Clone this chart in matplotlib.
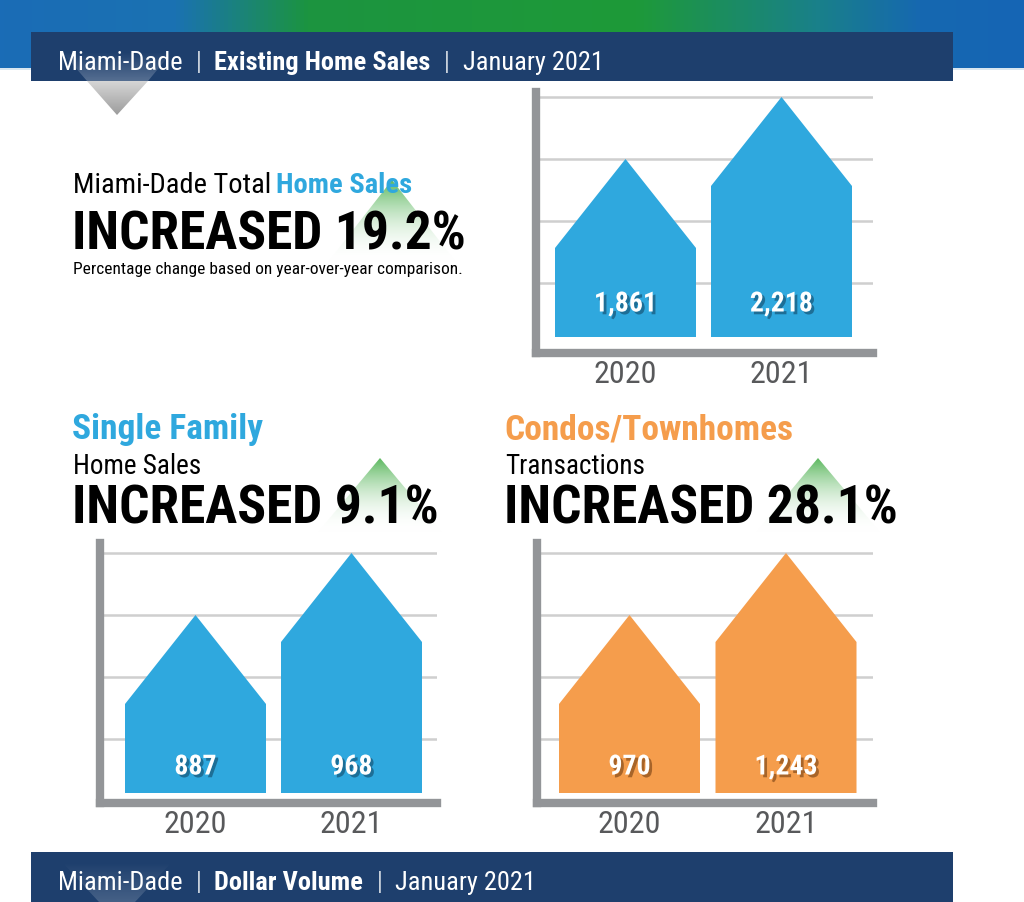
import numpy as np
import matplotlib
matplotlib.use("Agg")
import matplotlib.pyplot as plt
from matplotlib.patches import Polygon, Rectangle
from matplotlib.colors import to_rgba, LinearSegmentedColormap
import matplotlib.patheffects as pe

plt.rcParams['font.family'] = ['Roboto Condensed', 'Liberation Sans', 'DejaVu Sans']

# ---------------- data ----------------
years = ["2020", "2021"]
total_sales = [1861, 2218]
single_family = [887, 968]
condos = [970, 1243]
total_change = 19.2
sf_change = 9.1
condo_change = 28.1

header_top = [("Miami-Dade", "normal"), ("|", "light"), ("Existing Home Sales", "bold"),
              ("|", "light"), ("January 2021", "normal")]
header_bottom = [("Miami-Dade", "normal"), ("|", "light"), ("Dollar Volume", "bold"),
                 ("|", "light"), ("January 2021", "normal")]

# ---------------- colours ----------------
NAVY = '#1e3f6d'
BLUE = '#2fa8de'
ORANGE = '#f59d4c'
AXIS_GRAY = '#939598'
GRID_GRAY = '#cfcfcf'
YEAR_GRAY = '#58595b'

W, H = 1024, 902
fig = plt.figure(figsize=(W / 100, H / 100), dpi=100)
bg = fig.add_axes([0, 0, 1, 1])
bg.axis('off')
renderer = fig.canvas.get_renderer()


def gradient_poly(ax, verts, c_top, c_bot, zorder=1):
    verts = np.array(verts, dtype=float)
    x0, x1 = verts[:, 0].min(), verts[:, 0].max()
    y0, y1 = verts[:, 1].min(), verts[:, 1].max()
    t = np.linspace(0, 1, 200)[:, None]
    img = (np.array(to_rgba(c_top)) * (1 - t) + np.array(to_rgba(c_bot)) * t)[:, None, :]
    im = ax.imshow(img, extent=(x0, x1, y1, y0), origin='upper', aspect='auto',
                   zorder=zorder, interpolation='bilinear')
    poly = Polygon(verts, closed=True, fc='none', ec='none')
    ax.add_patch(poly)
    im.set_clip_path(poly)


# top colour strip
strip_cmap = LinearSegmentedColormap.from_list('strip', [
    (0.0, '#1a6cb6'), (0.17, '#1a72b2'), (0.30, '#1c9440'), (0.62, '#1e9a38'),
    (0.80, '#19808a'), (0.90, '#1668b0'), (1.0, '#1565b5')])
grad = np.linspace(0, 1, 512)[None, :]
bg.imshow(grad, cmap=strip_cmap, extent=(0, W, 68, 0), origin='upper', aspect='auto', zorder=0)
bg.add_patch(Rectangle((0, 68), W, 2, fc='#d8e6f0', ec='none', zorder=0.5))

# header boxes
bg.add_patch(Rectangle((31, 32), 922, 49, fc=NAVY, ec='none', zorder=2))
bg.add_patch(Rectangle((31, 852), 922, 52, fc=NAVY, ec='none', zorder=2))

# grey pointer under header
gradient_poly(bg, [(87, 81), (148, 81), (117, 115)], '#d6d6d6', '#9c9c9c', zorder=2.5)
gradient_poly(bg, [(62, 52), (172, 52), (148, 81), (87, 81)], (1, 1, 1, 0.0), (1, 1, 1, 0.25), zorder=2.5)
gradient_poly(bg, [(62, 862), (172, 862), (135, 902), (99, 902)], (1, 1, 1, 0.0), (1, 1, 1, 0.18), zorder=2.5)

# green arrows behind percentages
for ax_, ay, hw, by in [(392, 180, 64, 262), (380, 458, 62, 532), (818, 458, 62, 532)]:
    gradient_poly(bg, [(ax_, ay), (ax_ + hw, by), (ax_ - hw, by)], '#5cb85f', (1, 1, 1, 0.0), zorder=1)

bg.set_xlim(0, W)
bg.set_ylim(H, 0)


def text_run(x, y, parts, gap, **kw):
    # draw pieces one after another on a common baseline
    for txt, style in parts:
        t = bg.text(x, y, txt, va='baseline', zorder=4, **style, **kw)
        x = t.get_window_extent(renderer).x1 + gap


# header texts
text_run(58, 70, [(t, {'fontweight': w}) for t, w in header_top], 13, color='white', fontsize=19)
text_run(58, 890, [(t, {'fontweight': w}) for t, w in header_bottom], 13, color='white', fontsize=19)

# headline block - total
text_run(73, 193, [("Miami-Dade Total", {'color': 'black'}),
                   ("Home Sales", {'color': BLUE, 'fontweight': 'bold'})], 5, fontsize=20.5)
bg.text(72, 250, f"INCREASED {total_change}%", fontsize=38.5, fontweight='bold', color='black',
        va='baseline', zorder=4)
bg.text(73, 274, "Percentage change based on year-over-year comparison.", fontsize=12.5,
        color='black', va='baseline', zorder=4)

# single family block
bg.text(72, 439, "Single Family", fontsize=25.5, fontweight='bold', color=BLUE, va='baseline', zorder=4)
bg.text(73, 474, "Home Sales", fontsize=19.5, color='black', va='baseline', zorder=4)
bg.text(72, 524, f"INCREASED {sf_change}%", fontsize=38.5, fontweight='bold', color='black',
        va='baseline', zorder=4)

# condos block
bg.text(504, 439, "Condos/Townhomes", fontsize=25.5, fontweight='bold', color=ORANGE, va='baseline', zorder=4)
bg.text(505, 474, "Transactions", fontsize=19.5, color='black', va='baseline', zorder=4)
bg.text(504, 524, f"INCREASED {condo_change}%", fontsize=38.5, fontweight='bold', color='black',
        va='baseline', zorder=4)


def house_chart(geom, values, color, shadow, label_px):
    axis_x, right, top, axis_y, base, c0, c1, bw = geom
    ax = fig.add_axes([axis_x / W, 1 - axis_y / H, (right - axis_x) / W, (axis_y - top) / H])
    v1, v2 = values
    ppu = 62.0 / (v2 - v1)          # pixels per unit
    base_val = v1 - 178 / ppu
    roof = 89 / ppu
    sp = c1 - c0
    ax.set_xlim((axis_x - c0) / sp, (right - c0) / sp)
    ax.set_ylim(base_val - (axis_y - base) / ppu, base_val + (base - top) / ppu)
    hw = bw / sp / 2
    for i, v in enumerate(values):
        xs = [i - hw, i - hw, i, i + hw, i + hw]
        ys = [base_val, v - roof, v, v - roof, base_val]
        ax.fill(xs, ys, color=color, lw=0, zorder=3)
        ax.annotate(f"{v:,}", xy=(i, base_val), xytext=(0, label_px * 0.72),
                    textcoords='offset points', ha='center', va='center',
                    fontsize=20, fontweight='bold', color='white', zorder=4,
                    path_effects=[pe.SimplePatchShadow(offset=(2, -2), shadow_rgbFace=shadow, alpha=0.5),
                                  pe.Normal()])
    ax.set_yticks([v2 - k * (v2 - v1) for k in range(4)])
    ax.yaxis.grid(True, color=GRID_GRAY, lw=1.8)
    ax.set_axisbelow(True)
    ax.tick_params(axis='y', length=0, labelleft=False)
    ax.set_xticks([0, 1], years)
    ax.tick_params(axis='x', length=0, pad=5, labelsize=23, labelcolor=YEAR_GRAY)
    for s in ['top', 'right']:
        ax.spines[s].set_visible(False)
    for s in ['left', 'bottom']:
        ax.spines[s].set_color(AXIS_GRAY)
        ax.spines[s].set_linewidth(6)
        ax.spines[s].set_capstyle('projecting')
    ax.patch.set_alpha(0)
    return ax


house_chart((536, 873, 92, 353, 337, 625.5, 781.5, 141), total_sales, BLUE, '#0d3550', 33)
house_chart((100, 437, 543, 803, 793, 195.5, 351.5, 141), single_family, BLUE, '#0d3550', 26)
house_chart((537, 873, 543, 803, 793, 629.5, 786, 141), condos, ORANGE, '#5a2c08', 26)

fig.savefig("out.png", dpi=100)
